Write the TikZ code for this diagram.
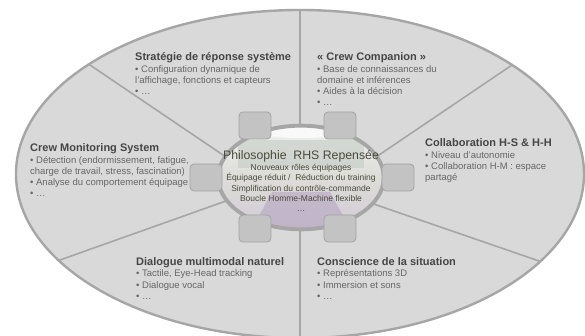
\documentclass[tikz,border=0pt]{standalone}
\usepackage{fontspec}
\setmainfont{Liberation Sans}
\usetikzlibrary{shapes.geometric}
\definecolor{fillgray}{HTML}{D9D9D9}
\definecolor{edgegray}{HTML}{A6A6A6}
\definecolor{titlegray}{HTML}{454545}
\definecolor{bodygray}{HTML}{666666}
\definecolor{sqfill}{HTML}{C3C3C3}
\definecolor{sqedge}{HTML}{A3A3A3}
\definecolor{centertext}{HTML}{4A4A3C}
\definecolor{phtop}{HTML}{EFEFEE}
\definecolor{phmid}{HTML}{DDDDD8}
\definecolor{phbot}{HTML}{D2CAD6}
\definecolor{screen}{HTML}{BFC8C0}
\definecolor{floor}{HTML}{B3A2C0}
\newcommand\sectitle{\fontsize{11}{12}\selectfont\bfseries\color{titlegray}}
\newcommand\centitle{\fontsize{12.3}{14}\selectfont}
\begin{document}
\begin{tikzpicture}[x=1pt,y=-1pt,
  outerell/.style={ellipse, draw=edgegray, fill=fillgray, line width=2.4pt, inner sep=0pt},
  innerell/.style={ellipse, draw=edgegray, line width=2.6pt, inner sep=0pt,
    top color=phtop, bottom color=phbot, middle color=phmid},
  divider/.style={edgegray, line width=1.6pt},
  sq/.style={draw=sqedge, fill=sqfill, rounded corners=4pt, minimum width=32pt, minimum height=27pt, inner sep=0pt, line width=0.8pt},
  sect/.style={anchor=base west, inner sep=0pt, font=\fontsize{9.5}{11}\selectfont, text=bodygray},
  centre/.style={anchor=base, inner sep=0pt, font=\fontsize{8.5}{10.3}\selectfont, text=centertext},
]
\useasboundingbox (0,0) rectangle (585,336);
\fill[white] (0,0) rectangle (585,336);

% outer ellipse
\node[outerell, minimum width=568pt, minimum height=328pt] (outer) at (300,174) {};

% dividers
\coordinate (topA) at (300,0);    \coordinate (topB) at (300,140);
\coordinate (botA) at (300,340);  \coordinate (botB) at (300,215);
\coordinate (ulA) at (70,51.5);   \coordinate (ulB) at (240,166.5);
\coordinate (llA) at (40,267.1);  \coordinate (llB) at (240,196);
\coordinate (urA) at (532,51.5);  \coordinate (urB) at (362,166.5);
\coordinate (lrA) at (562,268.9); \coordinate (lrB) at (362,200);
\begin{scope}
  \clip (300,174) ellipse [x radius=283, y radius=163];
  \draw[divider] (topA) -- (topB);
  \draw[divider] (botA) -- (botB);
  \draw[divider] (ulA) -- (ulB);
  \draw[divider] (llA) -- (llB);
  \draw[divider] (urA) -- (urB);
  \draw[divider] (lrA) -- (lrB);
\end{scope}

% inner ellipse (photo-like)
\node[innerell, minimum width=167pt, minimum height=105pt] (inner) at (301,177.5) {};
\begin{scope}
  \clip (301,177.5) ellipse [x radius=82, y radius=51];
  \fill[white, opacity=0.7] (301,124) ellipse [x radius=70, y radius=14];
  \fill[screen, opacity=0.5] (238,140) rectangle (364,168);
  \fill[floor, opacity=0.55] (272,192) -- (330,192) -- (352,232) -- (250,232) -- cycle;
\end{scope}
\draw[edgegray, line width=2.6pt] (301,177.5) ellipse [x radius=82.2, y radius=51.2];

% small squares
\node[sq] (sqTL) at (255,125.5) {};
\node[sq] (sqTR) at (340,125.5) {};
\node[sq] (sqL)  at (206,177.5) {};
\node[sq] (sqR)  at (398,177.5) {};
\node[sq] (sqBL) at (255,228.5) {};
\node[sq] (sqBR) at (340,228.5) {};

% centre text
\node[centre] (centre) at (301,159.5) {\begin{tabular}[t]{@{}c@{}}{\centitle Philosophie\ \ RHS Repensée}\\[0.7pt]
Nouveaux rôles équipages\\
Équipage réduit /\ \ Réduction du training\\
Simplification du contrôle-commande\\
Boucle Homme-Machine flexible\\
…\end{tabular}};

% sectors
\node[sect] (s1) at (135,61) {\begin{tabular}[t]{@{}l@{}}{\sectitle Stratégie de réponse système}\\[1pt]
• Configuration dynamique de\\
l'affichage, fonctions et capteurs\\
• …\end{tabular}};

\node[sect] (s2) at (317,61) {\begin{tabular}[t]{@{}l@{}}{\sectitle « Crew Companion »}\\[1pt]
• Base de connaissances du\\
domaine et inférences\\
• Aides à la décision\\
• …\end{tabular}};

\node[sect] (s3) at (30,152) {\begin{tabular}[t]{@{}l@{}}{\sectitle Crew Monitoring System}\\[1pt]
• Détection (endormissement, fatigue,\\
charge de travail, stress, fascination)\\
• Analyse du comportement équipage\\
• …\end{tabular}};

\node[sect] (s4) at (425,147) {\begin{tabular}[t]{@{}l@{}}{\sectitle Collaboration H-S \& H-H}\\[1pt]
• Niveau d'autonomie\\
• Collaboration H-M : espace\\
partagé\end{tabular}};

\node[sect] (s5) at (136,265) {\begin{tabular}[t]{@{}l@{}}{\sectitle Dialogue multimodal naturel}\\[1pt]
• Tactile, Eye-Head tracking\\
• Dialogue vocal\\
• …\end{tabular}};

\node[sect] (s6) at (317,265) {\begin{tabular}[t]{@{}l@{}}{\sectitle Conscience de la situation}\\[1pt]
• Représentations 3D\\
• Immersion et sons\\
• …\end{tabular}};
\end{tikzpicture}
\end{document}
